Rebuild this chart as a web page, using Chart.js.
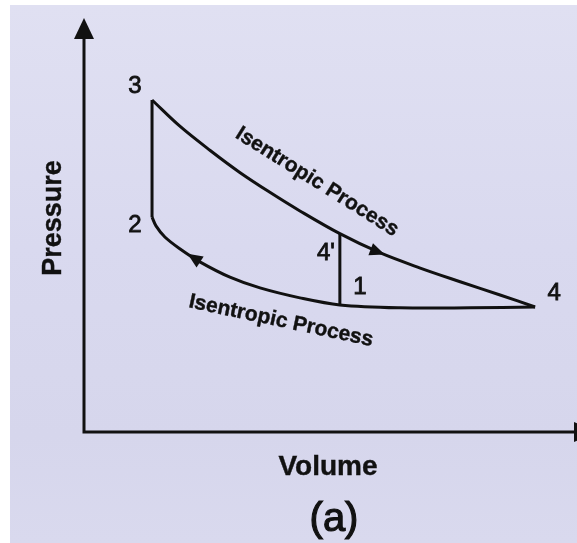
<!DOCTYPE html>
<html>
<head>
<meta charset="utf-8">
<script src="https://cdn.jsdelivr.net/npm/chart.js@4"></script>
<style>
  body { margin:0; background:#fff; }
  canvas { display:block; }
</style>
</head>
<body>
<canvas id="pv" width="577" height="543"></canvas>
<script>
// volume / pressure readings (arbitrary units)
const upperV = [1.38, 1.95, 2.56, 3.16, 3.77, 4.38, 5.19, 6.00, 6.82, 7.63, 8.44, 9.15];
const upperP = [8.02, 7.38, 6.80, 6.27, 5.79, 5.34, 4.79, 4.33, 3.96, 3.63, 3.31, 3.02];

const lowerV = [1.38, 1.46, 1.64, 1.95, 2.35, 2.96, 3.57, 4.38, 5.19, 6.41, 7.83, 9.15];
const lowerP = [5.19, 4.98, 4.71, 4.42, 4.11, 3.74, 3.48, 3.24, 3.07, 3.00, 3.00, 3.02];

const edgeV = [1.38, 1.38];   // 3 -> 2
const edgeP = [8.02, 5.19];
const dropV = [5.19, 5.19];   // 4' -> 1
const dropP = [4.79, 3.07];

const upperArrowV = 6.1;
const lowerArrowV = 2.1;

const FONT = "'Liberation Sans', Arial, sans-serif";
const INK = "#111111";

function pts(xs, ys){ return xs.map((x,i)=>({x:x, y:ys[i]})); }

function lineSet(xs, ys, tension){
  return {
    data: pts(xs, ys),
    showLine: true,
    borderColor: INK,
    borderWidth: 3,
    pointRadius: 0,
    tension: tension,
    fill: false
  };
}

// value on a polyline at volume v, plus segment index
function along(xs, ys, v){
  for(let i=0;i<xs.length-1;i++){
    const a = xs[i], b = xs[i+1];
    if((v>=a && v<=b) || (v<=a && v>=b)){
      const t = (v-a)/(b-a);
      return { p: ys[i]+t*(ys[i+1]-ys[i]), i:i };
    }
  }
  return { p: ys[0], i:0 };
}

function arrowHead(ctx, x, y, ang, len, half){
  ctx.save();
  ctx.translate(x, y);
  ctx.rotate(ang);
  ctx.beginPath();
  ctx.moveTo(0,0);
  ctx.lineTo(-len, -half);
  ctx.lineTo(-len, half);
  ctx.closePath();
  ctx.fill();
  ctx.restore();
}

// slightly heavier text, like the scanned original
function heavyText(ctx, txt, x, y, w){
  ctx.lineWidth = w;
  ctx.strokeText(txt, x, y);
  ctx.fillText(txt, x, y);
}

const decor = {
  id: "decor",
  beforeDraw(chart){
    const ctx = chart.ctx;
    ctx.save();
    ctx.fillStyle = "#ffffff";
    ctx.fillRect(0,0,chart.width,chart.height);
    const g = ctx.createLinearGradient(0,5,0,chart.height);
    g.addColorStop(0, "#e0e0f2");
    g.addColorStop(0.45, "#d9d9ef");
    g.addColorStop(0.8, "#d6d6ec");
    g.addColorStop(1, "#d9d9ee");
    ctx.fillStyle = g;
    ctx.fillRect(10,5,chart.width-10,chart.height-5);
    ctx.restore();
  },
  afterDatasetsDraw(chart){
    const ctx = chart.ctx;
    const xs = chart.scales.x, ys = chart.scales.y;
    const px = v => xs.getPixelForValue(v);
    const py = p => ys.getPixelForValue(p);
    const x0 = px(0), y0 = py(0);

    ctx.save();
    ctx.strokeStyle = INK;
    ctx.fillStyle = INK;
    ctx.lineWidth = 3;

    // axes
    ctx.beginPath();
    ctx.moveTo(x0, y0 + 1.5);
    ctx.lineTo(x0, 36);
    ctx.moveTo(x0 - 1.5, y0);
    ctx.lineTo(chart.width, y0);
    ctx.stroke();
    arrowHead(ctx, x0, 18, -Math.PI/2, 21, 10);
    arrowHead(ctx, 600, y0, 0, 26, 10);

    // direction arrows on the curves
    const u = along(upperV, upperP, upperArrowV);
    const ua = Math.atan2(py(upperP[u.i+1]) - py(upperP[u.i]), px(upperV[u.i+1]) - px(upperV[u.i]));
    arrowHead(ctx, px(upperArrowV), py(u.p), ua, 15, 6.5);
    const l = along(lowerV, lowerP, lowerArrowV);
    const la = Math.atan2(py(lowerP[l.i]) - py(lowerP[l.i+1]), px(lowerV[l.i]) - px(lowerV[l.i+1]));
    arrowHead(ctx, px(lowerArrowV), py(l.p), la, 15, 6.5);

    // state point numbers
    ctx.textAlign = "center";
    ctx.textBaseline = "middle";
    ctx.font = "24px " + FONT;
    const marks = [
      ["3", upperV[0], upperP[0], -17, -14],
      ["2", edgeV[1], edgeP[1], -17, 8],
      ["4'", dropV[0], dropP[0], -14, 20],
      ["1", dropV[1], dropP[1], 20, -18],
      ["4", upperV[upperV.length-1], upperP[upperP.length-1], 19, -14]
    ];
    marks.forEach(m => heavyText(ctx, m[0], px(m[1]) + m[3], py(m[2]) + m[4], 0.8));

    // process labels
    ctx.font = "bold 21px " + FONT;
    ctx.save();
    ctx.translate(px(upperV[5]) + 17, py(upperP[5]) - 29);
    ctx.rotate(32 * Math.PI/180);
    heavyText(ctx, "Isentropic Process", 0, 0, 0.4);
    ctx.restore();
    ctx.save();
    ctx.translate(px(lowerV[6]) + 21, py(lowerP[6]) + 33);
    ctx.rotate(12 * Math.PI/180);
    heavyText(ctx, "Isentropic Process", 0, 0, 0.4);
    ctx.restore();

    // axis titles and caption
    ctx.font = "bold 27px " + FONT;
    ctx.save();
    ctx.translate(54, 218);
    ctx.rotate(-Math.PI/2);
    heavyText(ctx, "Pressure", 0, 0, 0.4);
    ctx.restore();
    ctx.font = "bold 28px " + FONT;
    heavyText(ctx, "Volume", 328, 467, 0.4);
    ctx.font = "40px " + FONT;
    heavyText(ctx, "(a)", 334, 520, 1.2);
    ctx.restore();
  }
};

new Chart(document.getElementById("pv"), {
  type: "scatter",
  data: {
    datasets: [
      lineSet(upperV, upperP, 0.35),
      lineSet(lowerV, lowerP, 0.35),
      lineSet(edgeV, edgeP, 0),
      lineSet(dropV, dropP, 0)
    ]
  },
  options: {
    responsive: false,
    animation: false,
    devicePixelRatio: 1,
    layout: { padding: { left: 84, right: 0, top: 18, bottom: 111 } },
    scales: {
      x: { type: "linear", min: 0, max: 10, display: false },
      y: { type: "linear", min: 0, max: 10, display: false }
    },
    plugins: {
      legend: { display: false },
      tooltip: { enabled: false }
    }
  },
  plugins: [decor]
});
</script>
</body>
</html>
